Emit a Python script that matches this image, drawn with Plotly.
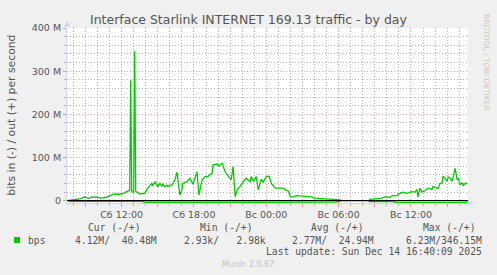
import plotly.graph_objects as go

# ---------------- data ----------------
out_times = [
    "2025-12-13 07:35", "2025-12-13 08:30", "2025-12-13 08:55", "2025-12-13 09:15", "2025-12-13 09:30",
    "2025-12-13 09:55", "2025-12-13 10:20", "2025-12-13 10:45", "2025-12-13 11:00", "2025-12-13 11:25",
    "2025-12-13 11:50", "2025-12-13 12:10", "2025-12-13 12:25", "2025-12-13 12:40", "2025-12-13 12:45",
    "2025-12-13 12:50", "2025-12-13 12:55", "2025-12-13 13:00", "2025-12-13 13:05", "2025-12-13 13:10",
    "2025-12-13 13:30", "2025-12-13 13:55", "2025-12-13 14:10", "2025-12-13 14:30", "2025-12-13 14:35",
    "2025-12-13 14:45", "2025-12-13 15:00", "2025-12-13 15:10", "2025-12-13 15:20", "2025-12-13 15:25",
    "2025-12-13 15:35", "2025-12-13 15:45", "2025-12-13 15:50", "2025-12-13 16:10", "2025-12-13 16:25",
    "2025-12-13 16:35", "2025-12-13 16:50", "2025-12-13 17:00", "2025-12-13 17:05", "2025-12-13 17:25",
    "2025-12-13 17:40", "2025-12-13 17:55", "2025-12-13 18:15", "2025-12-13 18:20", "2025-12-13 18:25",
    "2025-12-13 18:40", "2025-12-13 18:55", "2025-12-13 19:10", "2025-12-13 19:30", "2025-12-13 19:35",
    "2025-12-13 19:55", "2025-12-13 20:05", "2025-12-13 20:20", "2025-12-13 20:35", "2025-12-13 20:50",
    "2025-12-13 21:05", "2025-12-13 21:15", "2025-12-13 21:25", "2025-12-13 21:35", "2025-12-13 21:50",
    "2025-12-13 22:05", "2025-12-13 22:20", "2025-12-13 22:40", "2025-12-13 22:45", "2025-12-13 22:55",
    "2025-12-13 23:10", "2025-12-13 23:20", "2025-12-13 23:35", "2025-12-13 23:45", "2025-12-14 00:00",
    "2025-12-14 00:15", "2025-12-14 00:25", "2025-12-14 00:45", "2025-12-14 01:10", "2025-12-14 01:25",
    "2025-12-14 01:35", "2025-12-14 01:50", "2025-12-14 02:00", "2025-12-14 02:15", "2025-12-14 02:30",
    "2025-12-14 02:55", "2025-12-14 03:20", "2025-12-14 03:45", "2025-12-14 04:00", "2025-12-14 04:25",
    "2025-12-14 04:50", "2025-12-14 05:15", "2025-12-14 05:45", "2025-12-14 06:10", "2025-12-14 07:00",
    "2025-12-14 08:30", "2025-12-14 09:10", "2025-12-14 09:30", "2025-12-14 09:50", "2025-12-14 10:15",
    "2025-12-14 10:30", "2025-12-14 10:50", "2025-12-14 11:05", "2025-12-14 11:20", "2025-12-14 11:40",
    "2025-12-14 12:05", "2025-12-14 12:20", "2025-12-14 12:30", "2025-12-14 12:35", "2025-12-14 12:45",
    "2025-12-14 12:55", "2025-12-14 13:10", "2025-12-14 13:25", "2025-12-14 13:45", "2025-12-14 13:50",
    "2025-12-14 14:10", "2025-12-14 14:15", "2025-12-14 14:25", "2025-12-14 14:35", "2025-12-14 14:40",
    "2025-12-14 14:50", "2025-12-14 15:00", "2025-12-14 15:05", "2025-12-14 15:15", "2025-12-14 15:25",
    "2025-12-14 15:30", "2025-12-14 15:40", "2025-12-14 15:50", "2025-12-14 15:55", "2025-12-14 16:05",
    "2025-12-14 16:15", "2025-12-14 16:20", "2025-12-14 16:30", "2025-12-14 16:40",
]
out_mbps = [
    0.5, 4, 9, 5.5, 8,
    8, 6, 8, 11, 15.6,
    15, 17, 21, 24, 279,
    22, 20, 20, 346.15, 22,
    15.6, 17, 29, 40, 35,
    44, 33, 40, 33, 38,
    32, 36, 33, 36, 48,
    66, 13, 25, 40, 44,
    52, 38, 67, 25, 13,
    48, 56, 56, 64, 83,
    85, 80, 87, 67, 56,
    48, 79, 9, 25, 33,
    44, 52, 44, 56, 45,
    56, 25, 50, 43, 56,
    57, 40, 29, 30, 29,
    25, 22, 9, 9, 11.6,
    11, 9, 9, 6, 5.5,
    5, 3, 3, 2, None,
    3, 5.5, 5.5, 9, 8,
    12, 12, 17, 19.5, 17,
    21, 20, 26.5, 9, 29,
    20, 23, 29, 26, 33,
    28, 28, 40, 41, 57,
    52, 45, 55, 52, 45,
    55, 75, 48, 52, 36.5,
    42, 35, 40, 40.48,
]

in_times = [
    "2025-12-13 07:35", "2025-12-13 08:00", "2025-12-13 08:30", "2025-12-13 09:10", "2025-12-13 10:30",
    "2025-12-13 12:00", "2025-12-13 13:30", "2025-12-13 14:00", "2025-12-13 16:00", "2025-12-13 18:00",
    "2025-12-13 20:00", "2025-12-13 22:00", "2025-12-14 00:00", "2025-12-14 02:00", "2025-12-14 04:00",
    "2025-12-14 05:45", "2025-12-14 06:10", "2025-12-14 07:00", "2025-12-14 08:30", "2025-12-14 10:30",
    "2025-12-14 10:45", "2025-12-14 12:00", "2025-12-14 14:00", "2025-12-14 16:00", "2025-12-14 16:40",
]
in_mbps = [
    -1.2, -1.8, -1.6, -1.0, -0.8,
    -1.0, -1.2, -3.8, -4.2, -3.9,
    -4.3, -4.0, -3.8, -4.0, -3.6,
    -3.5, -1.0, None, -2.0, -2.2,
    -4.0, -4.4, -4.5, -4.3, -4.12,
]

# major (labelled / red) x ticks every 3 h, labels every 6 h
x_major_vals = [
    "2025-12-13 09:00", "2025-12-13 12:00", "2025-12-13 15:00", "2025-12-13 18:00",
    "2025-12-13 21:00", "2025-12-14 00:00", "2025-12-14 03:00", "2025-12-14 06:00",
    "2025-12-14 09:00", "2025-12-14 12:00", "2025-12-14 15:00",
]
x_major_text = ["", "Сб 12:00", "", "Сб 18:00", "", "Вс 00:00", "", "Вс 06:00", "", "Вс 12:00", ""]
# minor (grey) x grid every hour, skipping the 3 h marks
x_minor_vals = [
    "2025-12-13 08:00", "2025-12-13 10:00", "2025-12-13 11:00", "2025-12-13 13:00", "2025-12-13 14:00",
    "2025-12-13 16:00", "2025-12-13 17:00", "2025-12-13 19:00", "2025-12-13 20:00", "2025-12-13 22:00",
    "2025-12-13 23:00", "2025-12-14 01:00", "2025-12-14 02:00", "2025-12-14 04:00", "2025-12-14 05:00",
    "2025-12-14 07:00", "2025-12-14 08:00", "2025-12-14 10:00", "2025-12-14 11:00", "2025-12-14 13:00",
    "2025-12-14 14:00", "2025-12-14 16:00",
]

y_major_vals = [0, 100e6, 200e6, 300e6, 400e6]
y_major_text = ["0", "100 M", "200 M", "300 M", "400 M"]
y_minor_vals = [20e6, 40e6, 60e6, 80e6, 120e6, 140e6, 160e6, 180e6, 220e6, 240e6, 260e6, 280e6,
                320e6, 340e6, 360e6, 380e6]

legend_headers = ["Cur (-/+)", "Min (-/+)", "Avg (-/+)", "Max (-/+)"]
legend_values = ["4.12M/\u00a0\u00a040.48M", "2.93k/\u00a0\u00a0\u00a02.98k",
                 "2.77M/\u00a0\u00a024.94M", "6.23M/346.15M"]
series_name = "bps"

# ---------------- layout geometry ----------------
W, H = 497, 275
L, R, T, B = 67, 29, 28, 72
PW, PH = W - L - R, H - T - B
X_RANGE = ["2025-12-13 07:28", "2025-12-14 16:44"]
Y_RANGE = [-5.3e6, 400e6]


def px(x):
    return (x - L) / PW


def py(y):
    return (H - B - y) / PH


GREEN = "#00cc00"
TXT = "#555555"
MGRID = "rgba(222,79,79,0.55)"
GRID = "rgba(150,150,150,0.7)"
AXIS = "#cfd6f8"
DASH = "1px,2px"

fig = go.Figure()
fig.add_trace(go.Scatter(x=in_times, y=[v * 1e6 if v is not None else None for v in in_mbps],
                         mode="lines", line=dict(color=GREEN, width=1.3), connectgaps=False,
                         hoverinfo="skip", showlegend=False))
fig.add_trace(go.Scatter(x=out_times, y=[v * 1e6 if v is not None else None for v in out_mbps],
                         mode="lines", line=dict(color=GREEN, width=1.3), connectgaps=False,
                         hoverinfo="skip", showlegend=False))

tickfont = dict(family="DejaVu Sans", size=9.5, color=TXT)

fig.update_layout(
    xaxis=dict(type="date", range=X_RANGE, tickmode="array", tickvals=x_minor_vals,
               ticktext=[""] * len(x_minor_vals), showgrid=True, gridcolor=GRID, griddash=DASH,
               ticks="outside", ticklen=2, tickcolor=GRID, showline=True, linecolor=AXIS,
               zeroline=False, fixedrange=True),
    xaxis2=dict(type="date", range=X_RANGE, overlaying="x", anchor="y", side="bottom",
                tickmode="array", tickvals=x_major_vals, ticktext=x_major_text,
                showgrid=True, gridcolor=MGRID, griddash=DASH, ticks="outside", ticklen=3,
                tickcolor=MGRID, tickfont=tickfont, showline=False, zeroline=False, fixedrange=True),
    yaxis=dict(range=Y_RANGE, tickmode="array", tickvals=y_minor_vals,
               ticktext=[""] * len(y_minor_vals), showgrid=True, gridcolor=GRID, griddash=DASH,
               ticks="outside", ticklen=2, tickcolor=GRID, showline=True, linecolor=AXIS,
               zeroline=False, fixedrange=True),
    yaxis2=dict(range=Y_RANGE, overlaying="y", anchor="x", side="left",
                tickmode="array", tickvals=y_major_vals, ticktext=y_major_text,
                showgrid=True, gridcolor=MGRID, griddash=DASH, ticks="outside", ticklen=3,
                tickcolor=MGRID, tickfont=tickfont, showline=False, zeroline=False, fixedrange=True),
)
# invisible trace so that the overlay axes are drawn
fig.add_trace(go.Scatter(x=[X_RANGE[0]], y=[0], xaxis="x2", yaxis="y2", mode="markers",
                         marker=dict(opacity=0), hoverinfo="skip", showlegend=False))

shapes = [
    dict(type="line", xref="paper", yref="y", x0=0, x1=1, y0=0, y1=0,
         line=dict(color="black", width=1.2), layer="above"),
    dict(type="path", xref="paper", yref="paper",
         path=f"M {px(64)} {py(27)} L {px(70)} {py(27)} L {px(67)} {py(21)} Z",
         fillcolor=AXIS, line=dict(width=0)),
    dict(type="path", xref="paper", yref="paper",
         path=f"M {px(468)} {py(200)} L {px(468)} {py(206)} L {px(474)} {py(203)} Z",
         fillcolor=AXIS, line=dict(width=0)),
    dict(type="rect", xref="paper", yref="paper", x0=px(14), x1=px(20), y0=py(243), y1=py(237),
         fillcolor=GREEN, line=dict(width=0)),
]

ann = []


def add_text(text, x, y, anchor="left", size=9.7, family="DejaVu Sans Mono", color=TXT, angle=0):
    ann.append(dict(text=text, x=px(x), y=py(y), xref="paper", yref="paper", showarrow=False,
                    xanchor=anchor, yanchor="middle", textangle=angle, borderpad=0,
                    font=dict(family=family, size=size, color=color)))


add_text("Interface Starlink INTERNET 169.13 traffic - by day", 248.5, 19, "center", 12.5, "DejaVu Sans")
add_text("bits in (-) / out (+) per second", 10.7, 115, "center", 10.8, "DejaVu Sans", angle=-90)
header_right = [142.3, 254, 365, 476.7]
value_right = [157.7, 266.7, 375, 482.7]
for t, xr in zip(legend_headers, header_right):
    add_text(t, xr, 227.3, "right")
add_text(series_name, 26.7, 240, "left")
for t, xr in zip(legend_values, value_right):
    add_text(t, xr, 240, "right")
add_text("Last update: Sun Dec 14 16:40:09 2025", 482.7, 251.7, "right")
add_text("Munin 2.0.67", 248, 264, "center", 8, "DejaVu Sans", color="#c4c4c4")
add_text("RRDTOOL / TOBI OETIKER", 487, 62, "center", 7.5, "DejaVu Sans", color="#c8c8c8", angle=90)

fig.update_layout(
    width=W, height=H, margin=dict(l=L, r=R, t=T, b=B, pad=0),
    paper_bgcolor="#f0f0f0", plot_bgcolor="#ffffff",
    showlegend=False, shapes=shapes, annotations=ann,
)

fig.write_html("out.html", config={"displayModeBar": False})
